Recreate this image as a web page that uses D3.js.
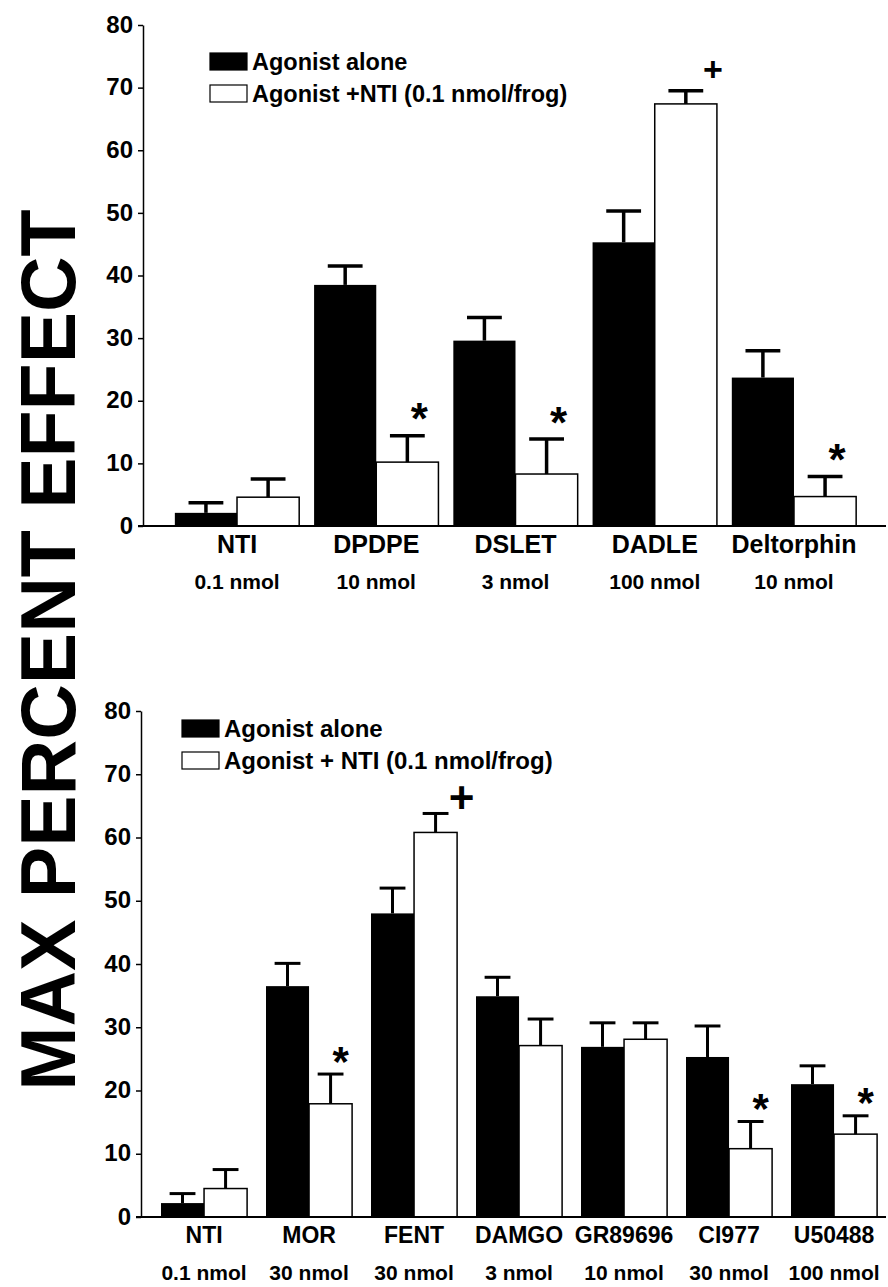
<!DOCTYPE html>
<html>
<head>
<meta charset="utf-8">
<script src="https://cdn.jsdelivr.net/npm/d3@7"></script>
<style>
  body { margin: 0; background: #fff; }
  svg { display: block; }
  text { font-family: "Liberation Sans", Arial, sans-serif; font-weight: bold; fill: #000; }
</style>
</head>
<body>
<div id="chart"></div>
<script>
// --- data ---
const yTicks = [0, 10, 20, 30, 40, 50, 60, 70, 80];

// top panel: delta agonists
const topCategories = ['NTI', 'DPDPE', 'DSLET', 'DADLE', 'Deltorphin'];
const topDoses = ['0.1 nmol', '10 nmol', '3 nmol', '100 nmol', '10 nmol'];
const topAlone = [2.1, 38.5, 29.6, 45.3, 23.7];
const topAloneSem = [1.6, 3.0, 3.7, 5.0, 4.3];
const topNti = [4.6, 10.2, 8.3, 67.4, 4.7];
const topNtiSem = [2.9, 4.2, 5.6, 2.1, 3.2];
const topMarks = ['', '*', '*', '+', '*'];

// bottom panel: mu and kappa agonists
const botCategories = ['NTI', 'MOR', 'FENT', 'DAMGO', 'GR89696', 'CI977', 'U50488'];
const botDoses = ['0.1 nmol', '30 nmol', '30 nmol', '3 nmol', '10 nmol', '30 nmol', '100 nmol'];
const botAlone = [2.2, 36.5, 48.0, 34.9, 26.9, 25.3, 21.0];
const botAloneSem = [1.5, 3.6, 4.0, 3.0, 3.8, 4.9, 2.9];
const botNti = [4.5, 17.9, 60.8, 27.1, 28.1, 10.8, 13.1];
const botNtiSem = [3.0, 4.7, 3.0, 4.2, 2.6, 4.3, 2.9];
const botMarks = ['', '*', '+', '', '', '*', '*'];

const W = 888, H = 1287;
const svg = d3.select('#chart').append('svg')
  .attr('width', W).attr('height', H);
svg.append('rect').attr('width', W).attr('height', H).attr('fill', '#fff');

function drawPanel(o) {
  const g = svg.append('g');
  const rows = o.categories.map((c, i) => ({
    cat: c, dose: o.doses[i], mark: o.marks[i],
    bars: [
      { key: 'alone', value: o.alone[i], sem: o.aloneSem[i] },
      { key: 'nti', value: o.nti[i], sem: o.ntiSem[i] }
    ]
  }));

  const y = d3.scaleLinear().domain([0, 80]).range([o.y0, o.y80]);
  const x0 = d3.scaleBand().domain(o.categories)
    .range(o.xRange).paddingInner(o.padIn).paddingOuter(o.padOut);
  const x1 = d3.scaleBand().domain(['alone', 'nti']).range([0, x0.bandwidth()]);

  // bars
  const grp = g.selectAll('g.grp').data(rows).enter().append('g')
    .attr('class', 'grp')
    .attr('transform', d => `translate(${x0(d.cat)},0)`);

  grp.selectAll('rect').data(d => d.bars).enter().append('rect')
    .attr('x', d => x1(d.key))
    .attr('y', d => y(d.value))
    .attr('width', x1.bandwidth())
    .attr('height', d => y(0) - y(d.value))
    .attr('fill', d => d.key === 'alone' ? '#000' : '#fff')
    .attr('stroke', '#000')
    .attr('stroke-width', d => d.key === 'alone' ? 0 : 1.5);

  // error bars (upper only)
  const cap = x1.bandwidth() * o.capFrac / 2;
  const eb = grp.selectAll('g.eb').data(d => d.bars).enter().append('g').attr('class', 'eb');
  eb.append('line')
    .attr('x1', d => x1(d.key) + x1.bandwidth() / 2)
    .attr('x2', d => x1(d.key) + x1.bandwidth() / 2)
    .attr('y1', d => y(d.value))
    .attr('y2', d => y(d.value + d.sem))
    .attr('stroke', '#000').attr('stroke-width', o.errW);
  eb.append('line')
    .attr('x1', d => x1(d.key) + x1.bandwidth() / 2 - cap)
    .attr('x2', d => x1(d.key) + x1.bandwidth() / 2 + cap)
    .attr('y1', d => y(d.value + d.sem))
    .attr('y2', d => y(d.value + d.sem))
    .attr('stroke', '#000').attr('stroke-width', o.errW);

  // significance marks above the NTI-treated bar
  grp.filter(d => d.mark).append('text')
    .attr('text-anchor', 'middle')
    .attr('x', d => x1('nti') + x1.bandwidth() / 2 + (d.mark === '*' ? o.starDx : o.plusDx))
    .attr('y', d => {
      const top = y(d.bars[1].value + d.bars[1].sem);
      return d.mark === '*' ? top - o.starDy + o.starSize * 0.56 : top - o.plusDy + o.plusSize * 0.33;
    })
    .style('font-size', d => (d.mark === '*' ? o.starSize : o.plusSize) + 'px')
    .text(d => d.mark);

  // y axis
  const yAx = g.append('g')
    .attr('transform', `translate(${o.axisX},0)`)
    .call(d3.axisLeft(y).tickValues(yTicks).tickSize(5).tickPadding(5).tickSizeOuter(0));
  yAx.select('.domain').attr('stroke-width', 1.5);
  yAx.selectAll('.tick line').attr('stroke-width', 1.5);
  yAx.selectAll('.tick text').style('font-size', '24px').attr('dy', '0.3em')
    .style('font-family', '"Liberation Sans", Arial, sans-serif');

  // baseline
  g.append('line')
    .attr('x1', o.axisX - 5).attr('x2', W - 2)
    .attr('y1', y(0)).attr('y2', y(0))
    .attr('stroke', '#000').attr('stroke-width', 2);

  // category labels
  const xAx = g.append('g')
    .attr('transform', `translate(0,${y(0)})`)
    .call(d3.axisBottom(x0).tickSize(0).tickPadding(o.catPad));
  xAx.select('.domain').remove();
  xAx.selectAll('.tick text').style('font-size', o.catSize + 'px')
    .style('font-family', '"Liberation Sans", Arial, sans-serif').attr('dy', 0);

  // dose labels
  g.selectAll('text.dose').data(rows).enter().append('text')
    .attr('class', 'dose')
    .attr('text-anchor', 'middle')
    .attr('x', d => x0(d.cat) + x0.bandwidth() / 2)
    .attr('y', o.doseY)
    .style('font-size', o.doseSize + 'px')
    .text(d => d.dose);

  // legend
  const lg = g.append('g').attr('transform', `translate(${o.legX},${o.legY})`);
  const items = [{ fill: '#000', label: 'Agonist alone' }, { fill: '#fff', label: o.ntiLabel }];
  items.forEach((it, i) => {
    lg.append('rect')
      .attr('x', 0).attr('y', i * o.legGap)
      .attr('width', 37).attr('height', 17)
      .attr('fill', it.fill).attr('stroke', '#000').attr('stroke-width', 1.2);
    lg.append('text')
      .attr('x', 42).attr('y', i * o.legGap + 17)
      .style('font-size', o.legSize + 'px')
      .text(it.label);
  });
}

drawPanel({
  categories: topCategories, doses: topDoses, marks: topMarks,
  alone: topAlone, aloneSem: topAloneSem, nti: topNti, ntiSem: topNtiSem,
  y0: 526, y80: 25, axisX: 143, xRange: [147, 884], padIn: 0.107, padOut: 0.2,
  capFrac: 0.56, errW: 3.5,
  starDx: 12, starDy: 26, starSize: 44, plusDx: 27, plusDy: 21, plusSize: 34,
  catPad: 27, catSize: 25, doseY: 589, doseSize: 21,
  legX: 210, legY: 53, legGap: 32, legSize: 23.5, ntiLabel: 'Agonist +NTI (0.1 nmol/frog)'
});

drawPanel({
  categories: botCategories, doses: botDoses, marks: botMarks,
  alone: botAlone, aloneSem: botAloneSem, nti: botNti, ntiSem: botNtiSem,
  y0: 1217, y80: 711, axisX: 141, xRange: [150.5, 887.6], padIn: 0.18, padOut: 0.1,
  capFrac: 0.6, errW: 3,
  starDx: 10, starDy: 22, starSize: 42, plusDx: 26, plusDy: 15, plusSize: 44,
  catPad: 26, catSize: 23, doseY: 1280, doseSize: 21,
  legX: 182, legY: 720, legGap: 32, legSize: 24, ntiLabel: 'Agonist + NTI (0.1 nmol/frog)'
});

// shared y axis title
svg.append('text')
  .attr('transform', 'translate(75,650) rotate(-90)')
  .attr('text-anchor', 'middle')
  .style('font-size', '77px')
  .text('MAX PERCENT EFFECT');
</script>
</body>
</html>
